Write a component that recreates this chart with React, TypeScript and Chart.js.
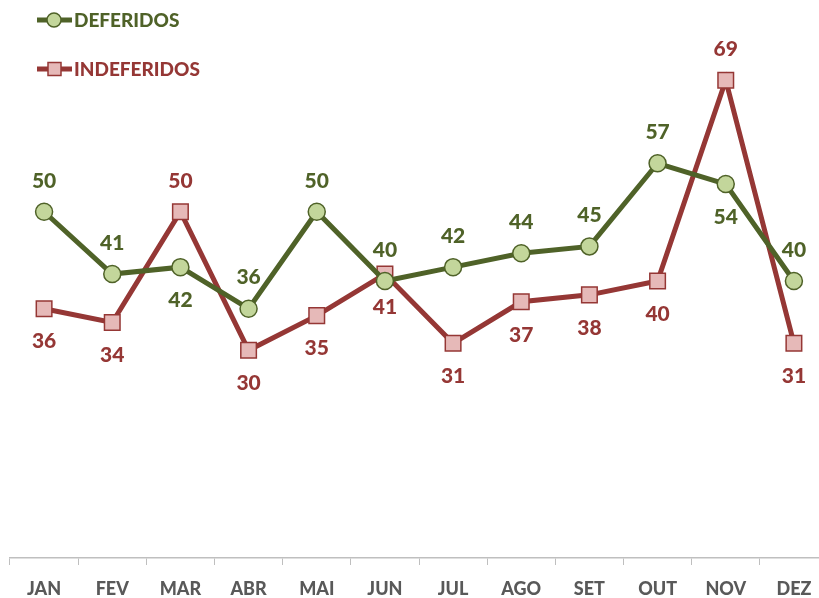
import React, { useEffect, useRef } from "react";
import { Chart, registerables } from "chart.js";

Chart.register(...registerables);

const months = ["JAN", "FEV", "MAR", "ABR", "MAI", "JUN", "JUL", "AGO", "SET", "OUT", "NOV", "DEZ"];
const deferidos = [50, 41, 42, 36, 50, 40, 42, 44, 45, 57, 54, 40];
const indeferidos = [36, 34, 50, 30, 35, 41, 31, 37, 38, 40, 69, 31];
// label placement: 1 = above, -1 = below
const deferidosPos = [1, 1, -1, 1, 1, 1, 1, 1, 1, 1, -1, 1];
const indeferidosPos = [-1, -1, 1, -1, -1, -1, -1, -1, -1, -1, 1, -1];

const GREEN = "#4F6228";
const GREEN_FILL = "#C3D69B";
const RED = "#953735";
const RED_FILL = "#E6B9B8";
const FONT = "Lato, 'Open Sans', sans-serif";

const labelsPlugin = {
  id: "pointLabels",
  afterDatasetsDraw(chart: any) {
    const ctx = chart.ctx;
    const positions = [deferidosPos, indeferidosPos];
    ctx.save();
    ctx.font = `900 21px ${FONT}`;
    ctx.textAlign = "center";
    ctx.textBaseline = "middle";
    chart.data.datasets.forEach((ds: any, di: number) => {
      const meta = chart.getDatasetMeta(di);
      ctx.fillStyle = ds.borderColor;
      meta.data.forEach((pt: any, i: number) => {
        const dir = positions[di][i];
        const off = dir > 0 ? 31 : 33;
        ctx.fillText(String(ds.data[i]), pt.x, pt.y - dir * off);
      });
    });
    ctx.restore();
  },
};

const legendPlugin = {
  id: "customLegend",
  afterDraw(chart: any) {
    const ctx = chart.ctx;
    ctx.save();
    ctx.font = `900 19px ${FONT}`;
    ctx.textBaseline = "middle";
    ctx.textAlign = "left";
    // DEFERIDOS
    ctx.strokeStyle = GREEN;
    ctx.lineWidth = 5;
    ctx.beginPath();
    ctx.moveTo(37, 20);
    ctx.lineTo(72, 20);
    ctx.stroke();
    ctx.beginPath();
    ctx.arc(54, 20, 7, 0, Math.PI * 2);
    ctx.fillStyle = GREEN_FILL;
    ctx.fill();
    ctx.lineWidth = 1.5;
    ctx.stroke();
    ctx.fillStyle = GREEN;
    ctx.fillText("DEFERIDOS", 74, 21);
    // INDEFERIDOS
    ctx.strokeStyle = RED;
    ctx.lineWidth = 5;
    ctx.beginPath();
    ctx.moveTo(37, 69);
    ctx.lineTo(72, 69);
    ctx.stroke();
    ctx.fillStyle = RED_FILL;
    ctx.fillRect(48, 62.5, 13, 13);
    ctx.lineWidth = 1.5;
    ctx.strokeRect(48, 62.5, 13, 13);
    ctx.fillStyle = RED;
    ctx.fillText("INDEFERIDOS", 74, 70);
    ctx.restore();
  },
};

export default function App() {
  const ref = useRef<HTMLCanvasElement>(null);
  useEffect(() => {
    if (!ref.current) return;
    const chart = new Chart(ref.current, {
      type: "line",
      data: {
        labels: months,
        datasets: [
          {
            label: "DEFERIDOS",
            data: deferidos,
            borderColor: GREEN,
            backgroundColor: GREEN_FILL,
            pointBackgroundColor: GREEN_FILL,
            pointBorderColor: GREEN,
            pointBorderWidth: 1.5,
            pointStyle: "circle",
            pointRadius: 8.5,
            borderWidth: 5,
            tension: 0,
          },
          {
            label: "INDEFERIDOS",
            data: indeferidos,
            borderColor: RED,
            backgroundColor: RED_FILL,
            pointBackgroundColor: RED_FILL,
            pointBorderColor: RED,
            pointBorderWidth: 1.5,
            pointStyle: "rect",
            pointRadius: 11,
            borderWidth: 5,
            tension: 0,
          },
        ],
      },
      options: {
        animation: false,
        responsive: false,
        layout: { autoPadding: false, padding: { left: 10, right: 12, top: 4, bottom: 0 } },
        plugins: {
          legend: { display: false },
          tooltip: { enabled: false },
        },
        scales: {
          x: {
            offset: true,
            grid: {
              display: true,
              drawOnChartArea: false,
              drawTicks: true,
              tickLength: 7,
              color: "#BFBFBF",
              lineWidth: 1,
              offset: true,
            },
            border: { display: true, color: "#BFBFBF", width: 1.5 },
            ticks: {
              color: "#595959",
              font: { family: FONT, size: 18, weight: "900" },
              padding: 13,
              maxRotation: 0,
            },
            afterFit: (scale: any) => {
              scale.height = 40;
            },
          },
          y: {
            display: false,
            min: 0,
            max: 80,
          },
        },
      },
      plugins: [labelsPlugin, legendPlugin],
    });
    return () => chart.destroy();
  }, []);
  return (
    <div style={{ position: "fixed", left: 0, top: 0, width: 819, height: 598, overflow: "hidden", background: "#fff" }}>
      <canvas ref={ref} width={840} height={598} style={{ display: "block" }} />
    </div>
  );
}
